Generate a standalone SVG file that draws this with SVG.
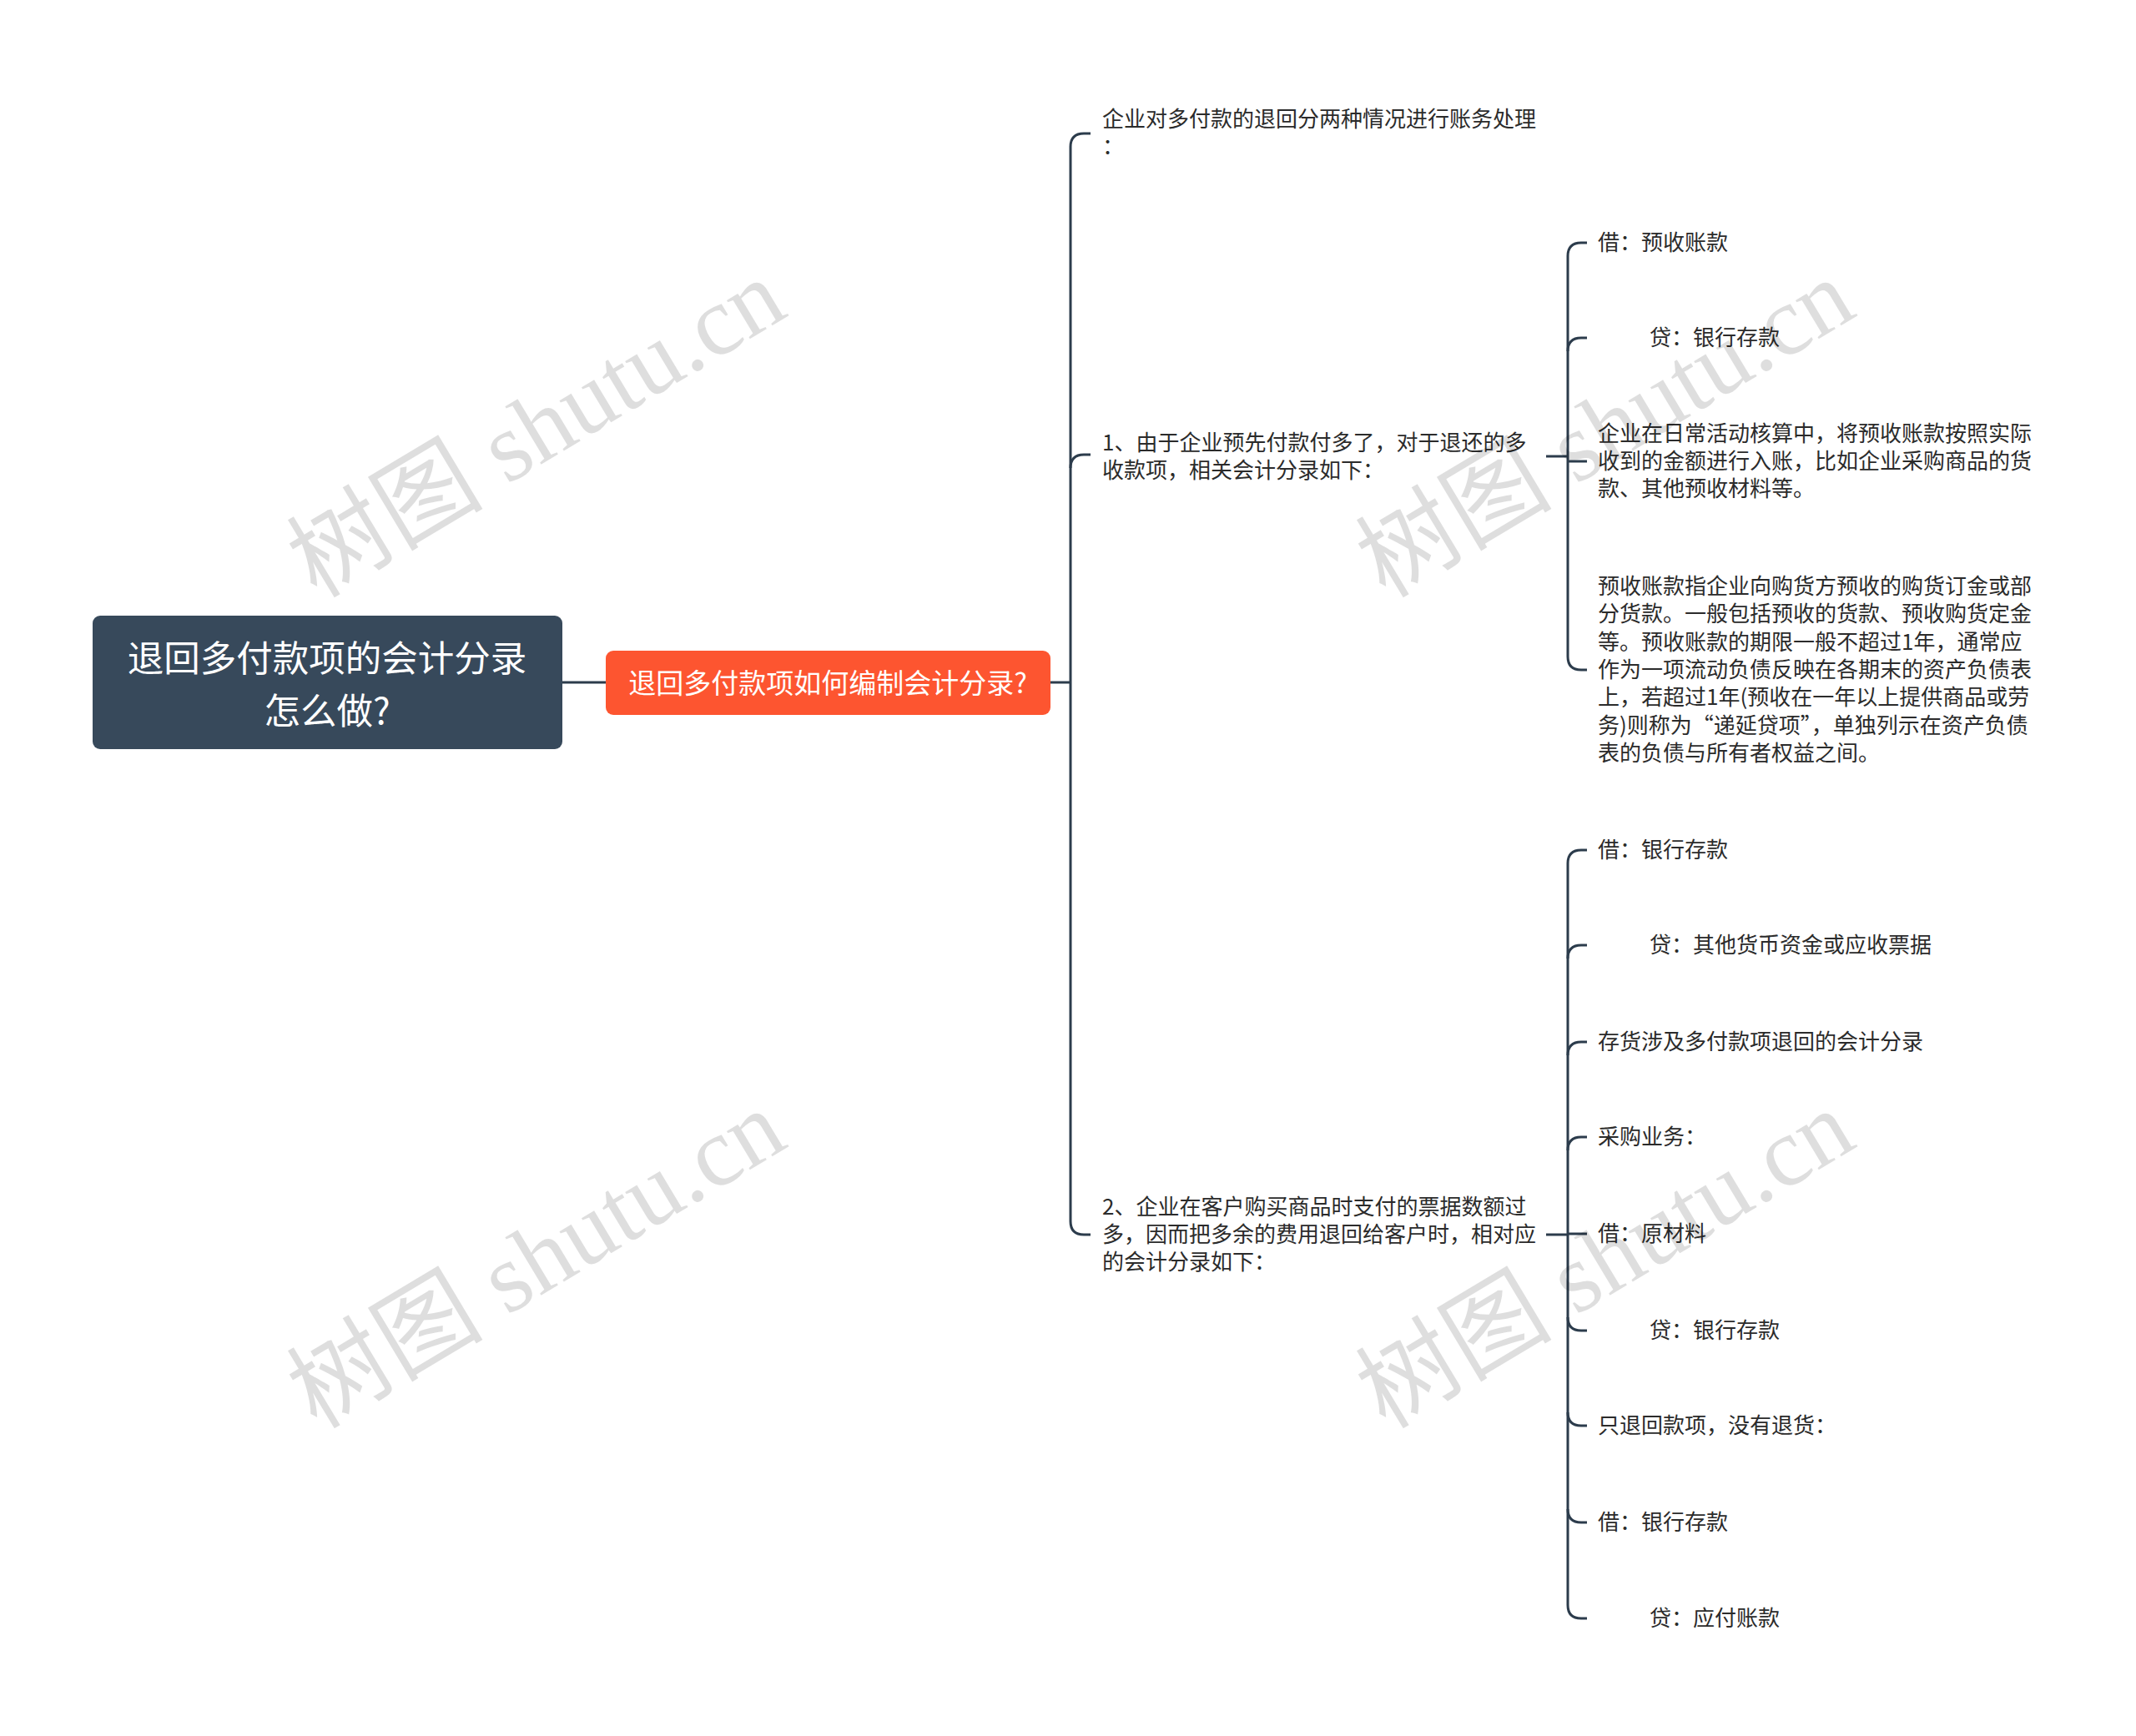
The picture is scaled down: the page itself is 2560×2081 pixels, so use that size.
<svg xmlns="http://www.w3.org/2000/svg" width="2560" height="2081" viewBox="0 0 2560 2081">
<style>
.t{font-family:"Noto Sans CJK SC","Noto Sans",sans-serif;font-size:26px;fill:#2b2b2b;dominant-baseline:central}
.ln{fill:none;stroke:#2c3c4c;stroke-width:3}
.wm{font-family:"Liberation Serif","Noto Sans CJK SC",serif;font-size:118px;fill:#000;fill-opacity:0.13;text-anchor:middle;dominant-baseline:central}
</style>
<rect width="2560" height="2081" fill="#ffffff"/>
<g id="connectors">
<path class="ln" d="M674 818 H726"/>
<path class="ln" d="M1259 818 H1283"/>
<path class="ln" d="M1307 160 H1299 Q1283 160 1283 176 V1464 Q1283 1480 1299 1480 H1307"/>
<path class="ln" d="M1307 545 H1299 Q1283 545 1283 561"/>
<path class="ln" d="M1853 547 H1879"/>
<path class="ln" d="M1902 291 H1895 Q1879 291 1879 307 V787 Q1879 803 1895 803 H1902"/>
<path class="ln" d="M1902 405 H1895 Q1879 405 1879 421"/>
<path class="ln" d="M1879 553 H1902"/>
<path class="ln" d="M1853 1480 H1879"/>
<path class="ln" d="M1902 1019 H1895 Q1879 1019 1879 1035 V1924 Q1879 1940 1895 1940 H1902"/>
<path class="ln" d="M1902 1133 H1895 Q1879 1133 1879 1149"/>
<path class="ln" d="M1902 1249 H1895 Q1879 1249 1879 1265"/>
<path class="ln" d="M1902 1363 H1895 Q1879 1363 1879 1379"/>
<path class="ln" d="M1879 1479 H1902"/>
<path class="ln" d="M1902 1595 H1895 Q1879 1595 1879 1579"/>
<path class="ln" d="M1902 1709 H1895 Q1879 1709 1879 1693"/>
<path class="ln" d="M1902 1825 H1895 Q1879 1825 1879 1809"/>
</g>
<g id="root">
<rect x="111" y="738" width="563" height="160" rx="9" fill="#37495b"/>
<text class="t" text-anchor="middle" style="font-size:43.5px;fill:#ffffff"><tspan x="392" y="786">退回多付款项的会计分录</tspan><tspan x="392" y="849">怎么做?</tspan></text>
</g>
<g id="main-topic">
<rect x="726" y="780" width="533" height="77" rx="9" fill="#fd5530"/>
<text class="t" x="992" y="817" text-anchor="middle" style="font-size:33px;fill:#ffffff">退回多付款项如何编制会计分录?</text>
</g>
<g transform="translate(0,-3)">
<g id="n-a">
<text class="t"><tspan x="1321" y="143">企业对多付款的退回分两种情况进行账务处理</tspan><tspan x="1321" y="176">：</tspan></text>
</g>
<g id="n-b">
<text class="t"><tspan x="1321" y="531">1、由于企业预先付款付多了，对于退还的多</tspan><tspan x="1321" y="564">收款项，相关会计分录如下：</tspan></text>
</g>
<g id="n-c">
<text class="t"><tspan x="1321" y="1447">2、企业在客户购买商品时支付的票据数额过</tspan><tspan x="1321" y="1480">多，因而把多余的费用退回给客户时，相对应</tspan><tspan x="1321" y="1513">的会计分录如下：</tspan></text>
</g>
<g id="b1"><text class="t" x="1915" y="291">借：预收账款</text></g>
<g id="b2"><text class="t" x="1977" y="405">贷：银行存款</text></g>
<g id="b3">
<text class="t"><tspan x="1915" y="520">企业在日常活动核算中，将预收账款按照实际</tspan><tspan x="1915" y="553">收到的金额进行入账，比如企业采购商品的货</tspan><tspan x="1915" y="586">款、其他预收材料等。</tspan></text>
</g>
<g id="b4">
<text class="t"><tspan x="1915" y="703">预收账款指企业向购货方预收的购货订金或部</tspan><tspan x="1915" y="736">分货款。一般包括预收的货款、预收购货定金</tspan><tspan x="1915" y="770">等。预收账款的期限一般不超过1年，通常应</tspan><tspan x="1915" y="803">作为一项流动负债反映在各期末的资产负债表</tspan><tspan x="1915" y="836">上，若超过1年(预收在一年以上提供商品或劳</tspan><tspan x="1915" y="870">务)则称为“递延贷项”，单独列示在资产负债</tspan><tspan x="1915" y="903">表的负债与所有者权益之间。</tspan></text>
</g>
<g id="c1"><text class="t" x="1915" y="1019">借：银行存款</text></g>
<g id="c2"><text class="t" x="1977" y="1133">贷：其他货币资金或应收票据</text></g>
<g id="c3"><text class="t" x="1915" y="1249">存货涉及多付款项退回的会计分录</text></g>
<g id="c4"><text class="t" x="1915" y="1363">采购业务：</text></g>
<g id="c5"><text class="t" x="1915" y="1479">借：原材料</text></g>
<g id="c6"><text class="t" x="1977" y="1595">贷：银行存款</text></g>
<g id="c7"><text class="t" x="1915" y="1709">只退回款项，没有退货：</text></g>
<g id="c8"><text class="t" x="1915" y="1825">借：银行存款</text></g>
<g id="c9"><text class="t" x="1977" y="1940">贷：应付账款</text></g>
</g>
<g id="watermarks">
<text class="wm" transform="translate(643 514) rotate(-31)">树图 shutu.cn</text>
<text class="wm" transform="translate(643 1510) rotate(-31)">树图 shutu.cn</text>
<text class="wm" transform="translate(1924 514) rotate(-31)">树图 shutu.cn</text>
<text class="wm" transform="translate(1924 1510) rotate(-31)">树图 shutu.cn</text>
</g>
</svg>
